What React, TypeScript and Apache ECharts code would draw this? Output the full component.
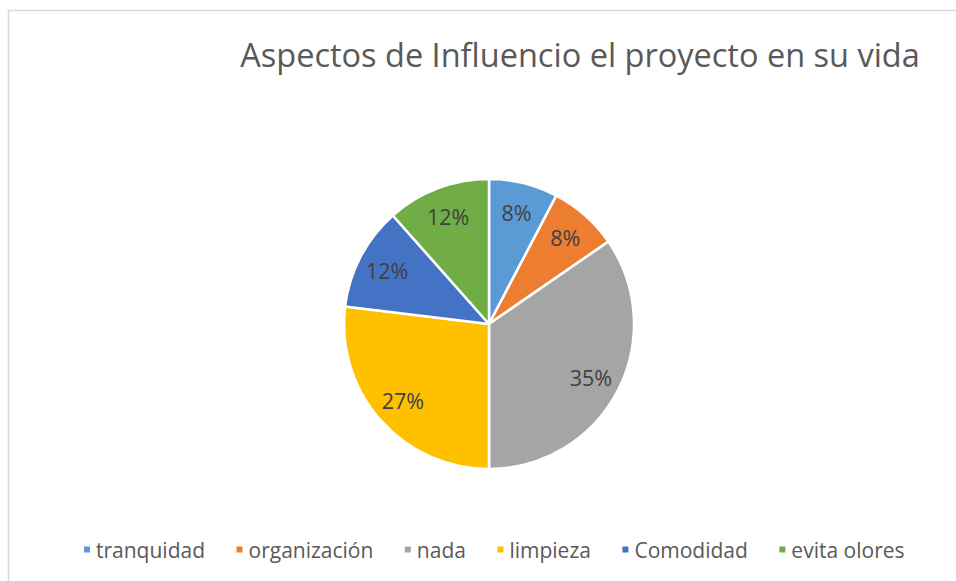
import React, { useEffect, useRef } from "react";
import * as echarts from "echarts";

const titleText = "Aspectos de Influencio el proyecto en su vida";
const categories = ["tranquidad", "organización", "nada", "limpieza", "Comodidad", "evita olores"];
const values = [2, 2, 9, 7, 3, 3];
const colors = ["#5B9BD5", "#ED7D31", "#A5A5A5", "#FFC000", "#4472C4", "#70AD47"];

const FONT = "'Open Sans', 'Noto Sans', sans-serif";

export default function App() {
  const ref = useRef<HTMLDivElement>(null);
  useEffect(() => {
    if (!ref.current) return;
    const chart = echarts.init(ref.current, null, { renderer: "svg" });
    const total = values.reduce((a, b) => a + b, 0);
    const data = categories.map((name, i) => ({ name, value: values[i], itemStyle: { color: colors[i] } }));
    chart.setOption({
      animation: false,
      backgroundColor: "#ffffff",
      title: {
        text: titleText,
        left: 575,
        textAlign: "center",
        top: 33,
        textStyle: { fontFamily: FONT, fontSize: 32.5, fontWeight: "normal", color: "#595959" },
      },
      legend: {
        data: categories,
        left: 77,
        top: 534,
        icon: "rect",
        itemWidth: 8,
        itemHeight: 8,
        itemGap: 29.5,
        textStyle: { fontFamily: FONT, fontSize: 21, color: "#595959" },
      },
      graphic: [
        {
          type: "rect",
          shape: { x: 8.5, y: 10.5, width: 1200, height: 1200 },
          style: { fill: "none", stroke: "#d9d9d9", lineWidth: 1.5 },
          silent: true,
        },
      ],
      series: [
        {
          type: "pie",
          center: [489, 324],
          radius: [0, 145],
          startAngle: 90,
          clockwise: true,
          data,
          label: { show: false },
          labelLine: { show: false },
          itemStyle: { borderColor: "#ffffff", borderWidth: 2.5 },
          emphasis: { disabled: true },
        },
        {
          type: "pie",
          center: [489, 324],
          radius: [79, 145],
          startAngle: 90,
          clockwise: true,
          silent: true,
          data: categories.map((name, i) => ({ name, value: values[i], itemStyle: { color: "rgba(0,0,0,0)" } })),
          label: {
            show: true,
            position: "inside",
            formatter: (p: any) => Math.round((p.value / total) * 100) + "%",
            fontFamily: FONT,
            fontSize: 21.5,
            color: "#404040",
          },
          labelLine: { show: false },
          emphasis: { disabled: true },
        },
      ],
    });
    return () => chart.dispose();
  }, []);
  return <div ref={ref} style={{ position: "absolute", left: 0, top: 0, width: 956, height: 581 }} />;
}
